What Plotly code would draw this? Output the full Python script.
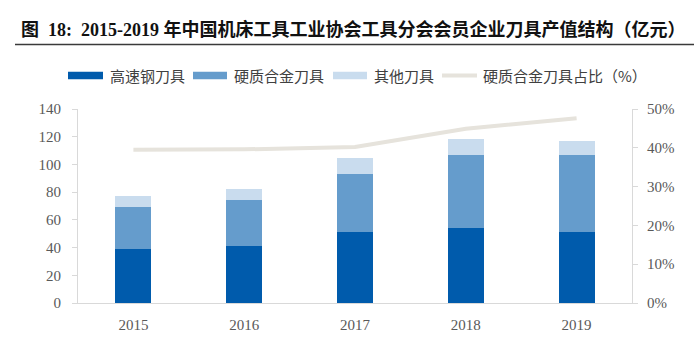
import plotly.graph_objects as go

years = ["2015", "2016", "2017", "2018", "2019"]
hss = [38.9, 41.3, 51.5, 54.4, 51.2]          # 高速钢刀具
carbide = [30.2, 32.7, 41.8, 52.2, 55.4]      # 硬质合金刀具
other = [7.8, 8.2, 11.1, 11.8, 10.1]          # 其他刀具
carbide_share = [39.5, 39.6, 40.2, 44.9, 47.6]  # 硬质合金刀具占比（%）

series_names = ["高速钢刀具", "硬质合金刀具", "其他刀具", "硬质合金刀具占比（%）"]
colors = ["#005bac", "#659ccc", "#c9dcee", "#e6e3dc"]
title_text = "图  18:  2015-2019 年中国机床工具工业协会工具分会会员企业刀具产值结构（亿元）"

W, H = 694, 338
L, R, T, B = 78, 62, 109, 35
PW, PH = W - L - R, H - T - B

def px(x):
    return (x - L) / PW

def py(y):
    return (H - B - y) / PH

fig = go.Figure()
for vals, name, col in zip([hss, carbide, other], series_names[:3], colors[:3]):
    fig.add_trace(go.Bar(x=years, y=vals, name=name, marker=dict(color=col, line=dict(width=0)),
                         width=0.325, showlegend=False))
fig.add_trace(go.Scatter(x=years, y=carbide_share, name=series_names[3], yaxis="y2", mode="lines",
                         line=dict(color=colors[3], width=4), showlegend=False))

serif = "Liberation Serif, Noto Sans CJK SC, serif"
tickfont = dict(family=serif, size=15, color="#595959")

shapes = []
annotations = []
# title
annotations.append(dict(text="<b>" + title_text + "</b>", x=px(19), y=py(30), xref="paper", yref="paper",
                        xanchor="left", yanchor="middle", showarrow=False,
                        font=dict(family="Liberation Serif, Noto Sans CJK SC", size=18, color="#111111")))
shapes.append(dict(type="line", xref="paper", yref="paper", x0=px(15), x1=px(700), y0=py(44.5), y1=py(44.5),
                   line=dict(color="#3a3a3a", width=1.5)))

# custom legend
leg_y = 75.5
sw = [(68, 103, 108), (193, 227, 232), (333, 367, 372), (442, 477, 481)]
for i, (x0, x1, tx) in enumerate(sw):
    if i < 3:
        shapes.append(dict(type="rect", xref="paper", yref="paper", x0=px(x0), x1=px(x1),
                           y0=py(leg_y + 3.8), y1=py(leg_y - 3.8), fillcolor=colors[i], line=dict(width=0)))
    else:
        shapes.append(dict(type="line", xref="paper", yref="paper", x0=px(x0), x1=px(x1),
                           y0=py(leg_y), y1=py(leg_y), line=dict(color=colors[i], width=4)))
    annotations.append(dict(text=series_names[i], x=px(tx), y=py(leg_y), xref="paper", yref="paper",
                            xanchor="left", yanchor="middle", showarrow=False,
                            font=dict(family="Noto Sans CJK SC", size=15, color="#404040")))

fig.update_layout(
    width=W, height=H,
    margin=dict(l=L, r=R, t=T, b=B, pad=0, autoexpand=False),
    paper_bgcolor="white", plot_bgcolor="white",
    barmode="stack", bargap=0.675,
    showlegend=False,
    xaxis=dict(type="category", showline=True, linecolor="#d9d9d9", linewidth=1, ticks="",
               tickfont=tickfont, ticklabelstandoff=8, showgrid=False, zeroline=False, automargin=False),
    yaxis=dict(range=[0, 140], dtick=20, showline=True, linecolor="#d9d9d9", linewidth=1,
               ticks="outside", ticklen=5, tickcolor="#d9d9d9", tickfont=tickfont,
               ticklabelstandoff=8, showgrid=False, zeroline=False, automargin=False),
    yaxis2=dict(range=[0, 50], dtick=10, ticksuffix="%", overlaying="y", side="right",
                showline=True, linecolor="#d9d9d9", linewidth=1, ticks="outside", ticklen=5,
                tickcolor="#d9d9d9", tickfont=tickfont, ticklabelstandoff=6,
                showgrid=False, zeroline=False, automargin=False),
    shapes=shapes, annotations=annotations,
)

fig.write_html("out.html")
